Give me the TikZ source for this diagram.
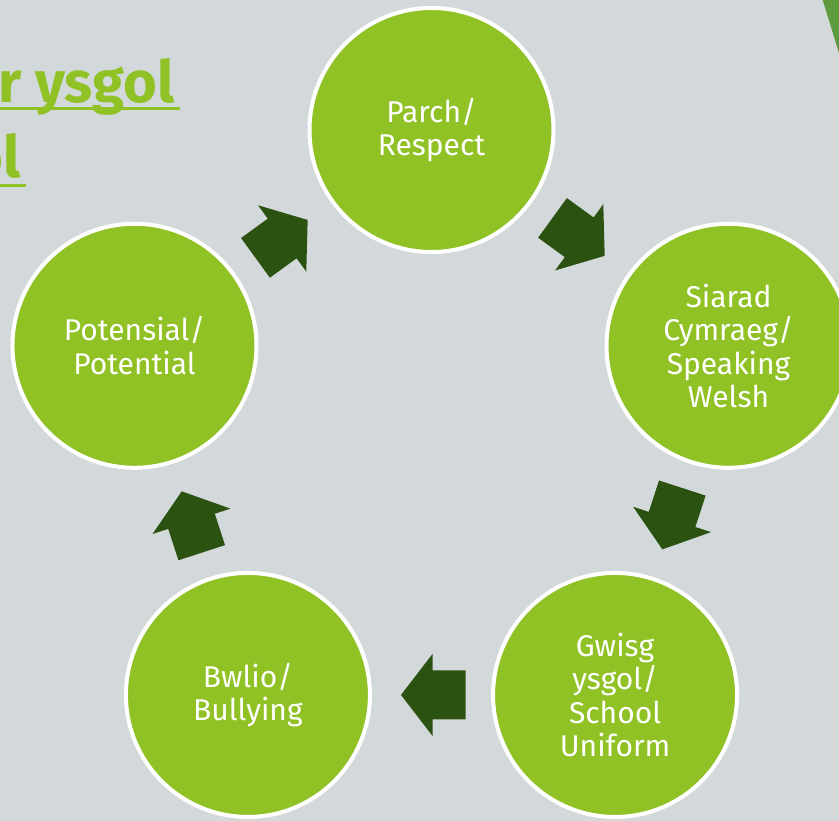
\documentclass[tikz,border=0pt]{standalone}
\usepackage{fontspec}
\setmainfont{Fira Sans}
\usetikzlibrary{calc}

\definecolor{bggrey}{HTML}{D3D8DA}
\definecolor{facetgreen}{HTML}{90C226}
\definecolor{arrowgreen}{HTML}{2C5211}
\definecolor{cornergreen}{HTML}{5E9A3E}

\begin{document}
\begin{tikzpicture}[x=1pt, y=1pt,
  value/.style={circle, fill=facetgreen, draw=white, line width=4pt,
    minimum size=244pt, inner sep=0pt, align=center, text=white,
    font=\fontsize{30}{33.5}\selectfont},
  cyclearrow/.style={fill=arrowgreen},
  heading/.style={anchor=base east, text=facetgreen,
    font=\fontsize{58}{70}\selectfont\bfseries}]
  \clip (0,0) rectangle (839,821);
  \fill[bggrey] (0,0) rectangle (839,821);
  \fill[cornergreen] (822.7,821) -- (839,821) -- (839,768) -- cycle;

  \node[heading] (title1) at (178,718) {r ysgol};
  \node[heading] (title2) at (24,643) {ol};
  \draw[facetgreen, line width=3pt] (0,712) -- (180,712);
  \draw[facetgreen, line width=3pt] (0,635) -- (26,635);

  \coordinate (c) at (431.5,378.7);
  \node[value] (p0) at ($(c)+(90:312.3)$) {Parch/\\Respect};
  \node[value] (p1) at ($(c)+(18:312.3)$) {Siarad\\Cymraeg/\\Speaking\\Welsh};
  \node[value] (p2) at ($(c)+(-54:312.3)$) {Gwisg\\ysgol/\\School\\Uniform};
  \node[value] (p3) at ($(c)+(-126:312.3)$) {Bwlio/\\Bullying};
  \node[value] (p4) at ($(c)+(162:312.3)$) {Potensial/\\Potential};

  \foreach \i/\j/\a in {0/1/-36, 1/2/-108, 2/3/180, 3/4/108, 4/0/36}
    \fill[cyclearrow, shift={($(p\i)!0.5!(p\j)$)}, rotate=\a]
      (-34,-24.5) -- (-1,-24.5) -- (-1,-41) -- (30.5,0) -- (-1,41)
      -- (-1,24.5) -- (-34,24.5) -- cycle;
\end{tikzpicture}
\end{document}
